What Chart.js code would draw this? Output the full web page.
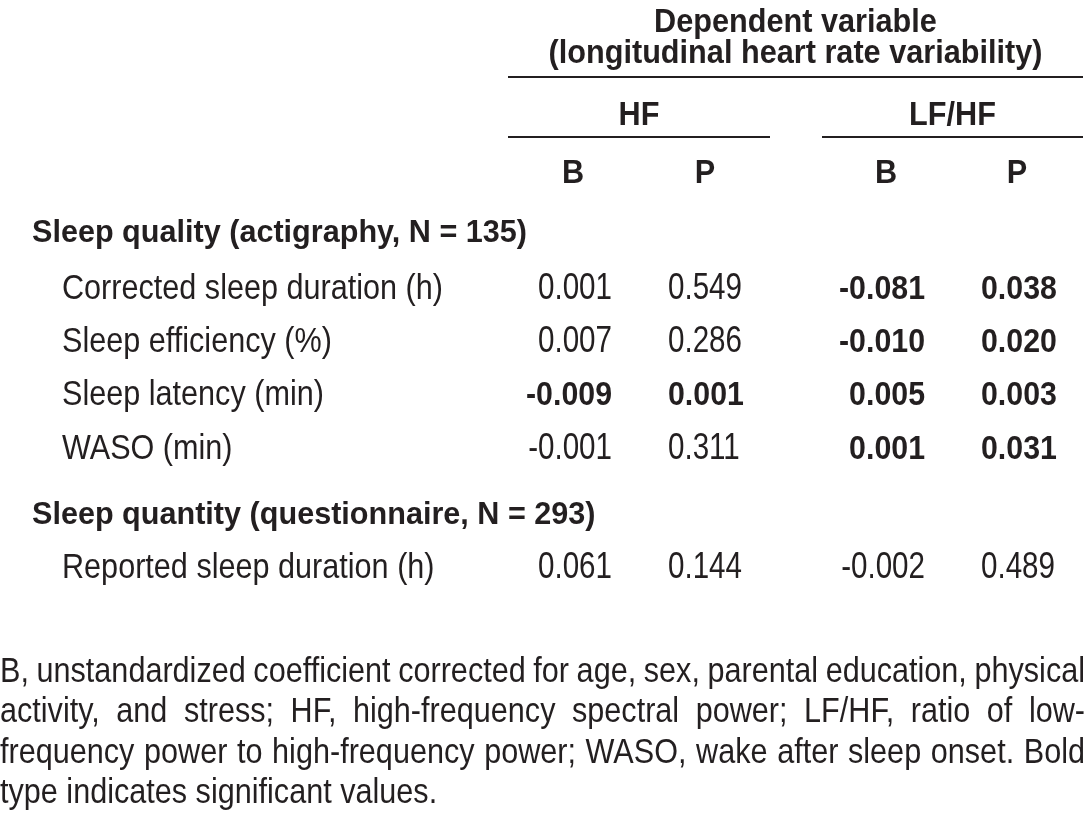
<!DOCTYPE html>
<html>
<head>
<meta charset="utf-8">
<script src="https://cdn.jsdelivr.net/npm/chart.js@4.4.1/dist/chart.umd.min.js"></script>
<style>
  html, body { margin: 0; padding: 0; background: #fff; }
  #tbl { display: block; }
</style>
</head>
<body>
<canvas id="tbl" width="1088" height="825"></canvas>
<script>
// Données du tableau
const titleLines = ['Dependent variable', '(longitudinal heart rate variability)'];
const outcomes = ['HF', 'LF/HF'];
const stats = ['B', 'P'];
const groupLabels = ['Sleep quality (actigraphy, N = 135)', 'Sleep quantity (questionnaire, N = 293)'];
const rowLabels = ['Corrected sleep duration (h)', 'Sleep efficiency (%)', 'Sleep latency (min)', 'WASO (min)', 'Reported sleep duration (h)'];
const hfB = [0.001, 0.007, -0.009, -0.001, 0.061];
const hfP = [0.549, 0.286, 0.001, 0.311, 0.144];
const lfhfB = [-0.081, -0.010, 0.005, 0.001, -0.002];
const lfhfP = [0.038, 0.020, 0.003, 0.031, 0.489];
const hfBold = [false, false, true, false, false];
const lfhfBold = [true, true, true, true, false];
const footnoteLines = [
    'B, unstandardized coefficient corrected for age, sex, parental education, physical',
    'activity, and stress; HF, high-frequency spectral power; LF/HF, ratio of low-',
    'frequency power to high-frequency power; WASO, wake after sleep onset. Bold',
    'type indicates significant values.'
];

// Mise en page (unités des axes = pixels de la figure, y = ligne de base)
const FONT = '"Liberation Sans", Arial, Helvetica, sans-serif';
// largeur visée d'un texte témoin -> facteur de condensation horizontal
const styles = {
    title:   {bold: true,  size: 34, ref: '(longitudinal heart rate variability)', w: 494},
    group:   {bold: true,  size: 32, ref: 'Sleep quality (actigraphy, N = 135)', w: 495},
    label:   {bold: false, size: 35, ref: 'Corrected sleep duration (h)', w: 381},
    num:     {bold: false, size: 36, ref: '0.001', w: 74},
    numBold: {bold: true,  size: 34, ref: '-0.081', w: 86}
};
const rowY = [299, 352, 405, 459, 578];
const groupY = [242, 524];
const titleY = [32, 63];
const spanX = [508, 1083];
const ruleY1 = 77, ruleY2 = 137;
const outcomeSpans = [[508, 770], [822, 1083]];
const outcomeY = 125;
const statX = [573, 705, 886, 1017];
const statY = 183;
const colX = [612, 668, 925, 981];
const colAlign = ['right', 'left', 'right', 'left'];
const footY = [682, 722, 763, 803];
const footSpan = [0, 1085];

function pts(x) {
    return rowY.map(y => ({x: x, y: y}));
}

const columns = [
    {values: hfB, bold: hfBold},
    {values: hfP, bold: hfBold},
    {values: lfhfB, bold: lfhfBold},
    {values: lfhfP, bold: lfhfBold}
];

const datasets = [{label: 'rows', data: pts(62), pointRadius: 0}]
    .concat(columns.map((c, i) => ({label: 'col' + i, data: pts(colX[i]), pointRadius: 0})));

function setFont(ctx, st) {
    ctx.font = (st.bold ? 'bold ' : '') + st.size + 'px ' + FONT;
}

function calibrate(ctx) {
    Object.values(styles).forEach(st => {
        setFont(ctx, st);
        st.sx = st.w / ctx.measureText(st.ref).width;
    });
}

function textWidth(ctx, text, st) {
    setFont(ctx, st);
    return ctx.measureText(text).width * st.sx;
}

// Texte condensé horizontalement
function drawText(ctx, text, x, y, st, align) {
    setFont(ctx, st);
    ctx.save();
    ctx.translate(x, y);
    ctx.scale(st.sx, 1);
    ctx.textAlign = align || 'left';
    ctx.fillText(text, 0, 0);
    ctx.restore();
}

function justify(ctx, text, x0, x1, y, st, last) {
    if (last) {
        drawText(ctx, text, x0, y, st, 'left');
        return;
    }
    const words = text.split(' ');
    const total = words.reduce((s, w) => s + textWidth(ctx, w, st), 0);
    const gap = (x1 - x0 - total) / (words.length - 1);
    let x = x0;
    words.forEach(w => {
        drawText(ctx, w, x, y, st, 'left');
        x += textWidth(ctx, w, st) + gap;
    });
}

const tablePlugin = {
    id: 'tablePlugin',
    afterDatasetsDraw(chart) {
        const ctx = chart.ctx;
        const sx = chart.scales.x, sy = chart.scales.y;
        const X = v => sx.getPixelForValue(v);
        const Y = v => sy.getPixelForValue(v);
        ctx.save();
        calibrate(ctx);
        ctx.fillStyle = '#231f20';
        ctx.strokeStyle = '#231f20';
        ctx.textBaseline = 'alphabetic';

        // En-tête
        titleLines.forEach((t, i) => drawText(ctx, t, X((spanX[0] + spanX[1]) / 2), Y(titleY[i]), styles.title, 'center'));
        outcomes.forEach((t, i) => drawText(ctx, t, X((outcomeSpans[i][0] + outcomeSpans[i][1]) / 2), Y(outcomeY), styles.title, 'center'));
        statX.forEach((x, i) => drawText(ctx, stats[i % 2], X(x), Y(statY), styles.title, 'center'));

        ctx.lineWidth = 2;
        ctx.beginPath();
        ctx.moveTo(X(spanX[0]), Y(ruleY1));
        ctx.lineTo(X(spanX[1]), Y(ruleY1));
        outcomeSpans.forEach(s => {
            ctx.moveTo(X(s[0]), Y(ruleY2));
            ctx.lineTo(X(s[1]), Y(ruleY2));
        });
        ctx.stroke();

        // Groupes
        groupLabels.forEach((g, i) => drawText(ctx, g, X(32), Y(groupY[i]), styles.group, 'left'));

        // Lignes et cellules
        chart.getDatasetMeta(0).data.forEach((el, i) => drawText(ctx, rowLabels[i], el.x, el.y, styles.label, 'left'));
        columns.forEach((c, ci) => {
            const meta = chart.getDatasetMeta(ci + 1);
            meta.data.forEach((el, i) => {
                const st = c.bold[i] ? styles.numBold : styles.num;
                drawText(ctx, c.values[i].toFixed(3), el.x, el.y, st, colAlign[ci]);
            });
        });

        // Note de bas de tableau
        footnoteLines.forEach((l, i) => justify(ctx, l, X(footSpan[0]), X(footSpan[1]), Y(footY[i]), styles.label, i === footnoteLines.length - 1));
        ctx.restore();
    }
};

new Chart(document.getElementById('tbl').getContext('2d'), {
    type: 'scatter',
    data: {datasets: datasets},
    options: {
        responsive: false,
        animation: false,
        events: [],
        layout: {padding: 0},
        plugins: {legend: {display: false}, tooltip: {enabled: false}},
        scales: {
            x: {type: 'linear', min: 0, max: 1088, display: false},
            y: {type: 'linear', min: 0, max: 825, reverse: true, display: false}
        }
    },
    plugins: [tablePlugin]
});
</script>
</body>
</html>
